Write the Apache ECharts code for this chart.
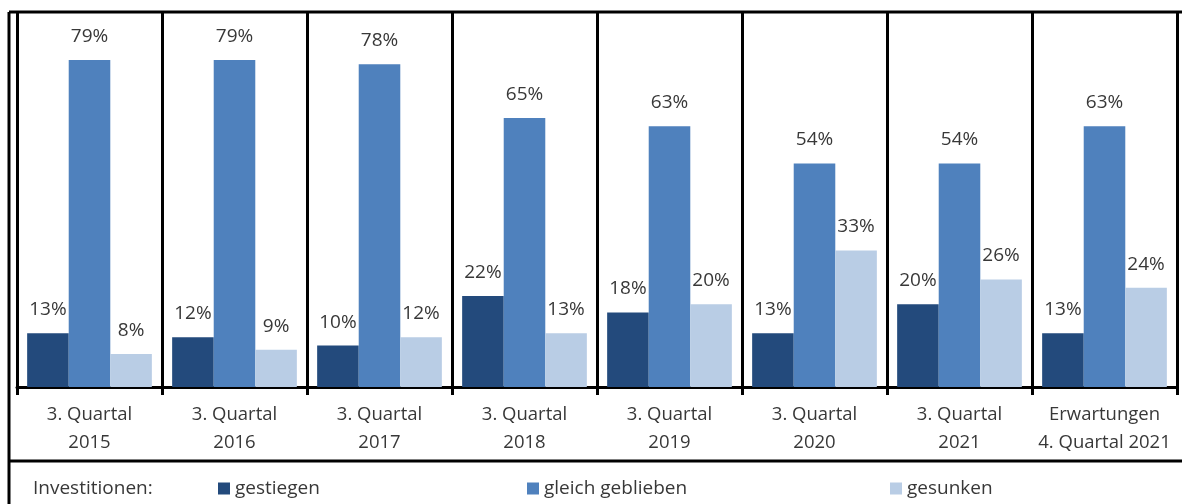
<!DOCTYPE html>
<html>
<head>
<meta charset="utf-8">
<script src="https://cdn.jsdelivr.net/npm/echarts@6/dist/echarts.min.js"></script>
<style>
html,body{margin:0;padding:0;background:#fff;}
#chart{width:1182px;height:504px;}
</style>
</head>
<body>
<div id="chart"></div>
<script>
const categories = ['3. Quartal\n2015','3. Quartal\n2016','3. Quartal\n2017','3. Quartal\n2018','3. Quartal\n2019','3. Quartal\n2020','3. Quartal\n2021','Erwartungen\n4. Quartal 2021'];
const seriesNames = ['gestiegen','gleich geblieben','gesunken'];
const gestiegen = [13,12,10,22,18,13,20,13];
const gleichGeblieben = [79,79,78,65,63,54,54,63];
const gesunken = [8,9,12,13,20,33,26,24];
const legendTitle = 'Investitionen:';

const colors = ['#234A7C','#4F81BD','#B9CDE5'];
const FONT = '"Open Sans", sans-serif';
const TXT = '#383838';

const chart = echarts.init(document.getElementById('chart'), null, {renderer:'canvas'});
const mkSeries = (name, data, i) => ({
  name, type:'bar', data, barGap:'0%', barCategoryGap:'14%',
  itemStyle:{color:colors[i]},
  label:{show:true, position:'top', distance:14, formatter:'{c}%', color:TXT, fontFamily:FONT, fontSize:19},
  animation:false
});
const legendBase = {icon:'rect', itemWidth:12, itemHeight:12, itemGap:5, top:479, padding:0,
  textStyle:{color:TXT, fontFamily:FONT, fontSize:19}};
chart.setOption({
  animation:false,
  grid:{left:17, right:5, top:12, bottom:117, containLabel:false},
  xAxis:{type:'category', data:categories, boundaryGap:true,
    axisLine:{lineStyle:{color:'#000', width:3}},
    axisTick:{show:true, length:8, interval:0, lineStyle:{color:'#000', width:3}},
    splitLine:{show:true, interval:0, lineStyle:{color:'#000', width:3}},
    axisLabel:{interval:0, margin:14, color:TXT, fontFamily:FONT, fontSize:18.5, lineHeight:28}
  },
  yAxis:{type:'value', min:0, max:90.6, show:false, splitLine:{show:false}},
  legend:[
    Object.assign({}, legendBase, {data:[seriesNames[0]], left:218}),
    Object.assign({}, legendBase, {data:[seriesNames[1]], left:527}),
    Object.assign({}, legendBase, {data:[seriesNames[2]], left:890})
  ],
  graphic:[
    {type:'line', shape:{x1:9,y1:12,x2:1182,y2:12}, style:{stroke:'#000', lineWidth:3}},
    {type:'line', shape:{x1:9,y1:12,x2:9,y2:504}, style:{stroke:'#000', lineWidth:3}},
    {type:'line', shape:{x1:9,y1:461,x2:1182,y2:461}, style:{stroke:'#000', lineWidth:3}},
    {type:'text', left:33, top:479, style:{text:legendTitle, fill:TXT, font:'19px "Open Sans", sans-serif'}}
  ],
  series:[
    mkSeries(seriesNames[0], gestiegen, 0),
    mkSeries(seriesNames[1], gleichGeblieben, 1),
    mkSeries(seriesNames[2], gesunken, 2)
  ]
});
</script>
</body>
</html>
